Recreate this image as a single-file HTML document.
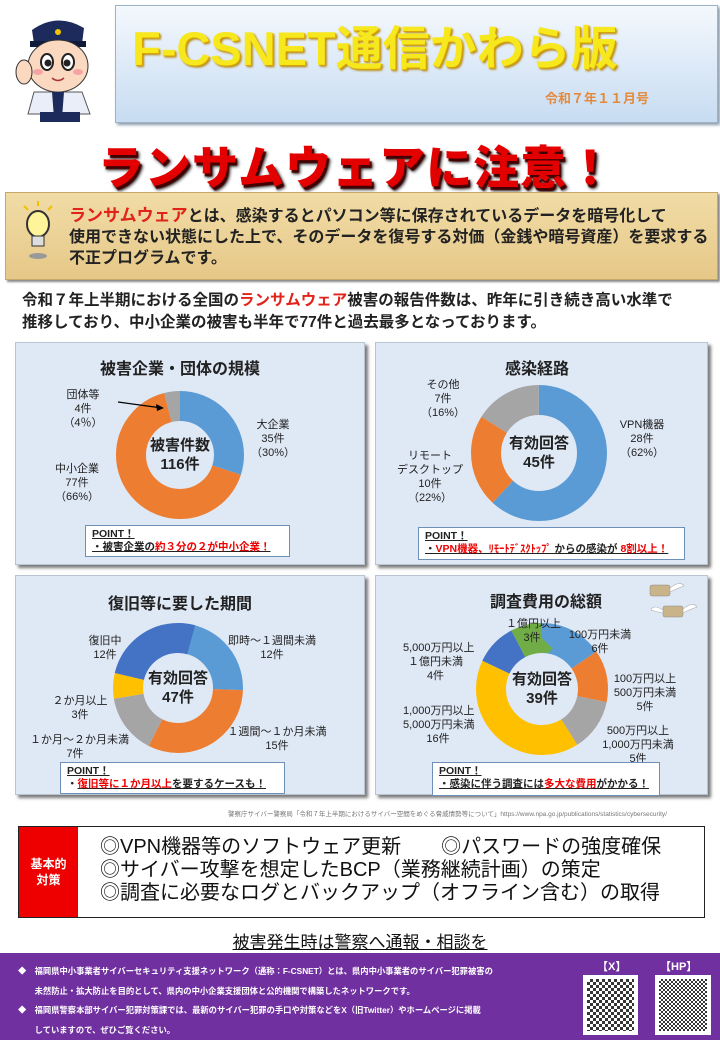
<!DOCTYPE html>
<html><head><meta charset="utf-8">
<style>
*{margin:0;padding:0;box-sizing:border-box}
body{width:720px;height:1040px;position:relative;background:#fff;font-family:"Liberation Sans","Noto Sans CJK JP",sans-serif;overflow:hidden;color:#222}
.a{position:absolute;white-space:nowrap}
.panel{position:absolute;background:#dfe8f5;border:1px solid #b9c4d3;box-shadow:3px 3px 3px #7a7a7a}
.pt{position:absolute;background:#fff;border:1px solid #6e8fb8;font-size:10.5px;line-height:13px;padding:2px 6px;font-weight:bold;white-space:nowrap}
.lbl{position:absolute;text-align:center;font-size:11px;line-height:14px;color:#222;white-space:nowrap}
.ctr{position:absolute;text-align:center;font-size:15px;line-height:19px;font-weight:bold;color:#222}
.r{color:#e00}
</style></head><body>

<svg class="a" style="left:12px;top:14px" width="95" height="108" viewBox="0 0 95 108">
<path d="M20 16 Q45 -2 72 14 L70 30 L22 30Z" fill="#1d2b5c"/>
<rect x="18" y="27" width="56" height="6" fill="#101a3a"/>
<circle cx="46" cy="18" r="3" fill="#f2c700"/>
<ellipse cx="46" cy="52" rx="30" ry="26" fill="#fbd8c0" stroke="#333"/>
<ellipse cx="35" cy="48" rx="6" ry="8" fill="#fff" stroke="#222" stroke-width="2"/>
<ellipse cx="56" cy="48" rx="6" ry="8" fill="#fff" stroke="#222" stroke-width="2"/>
<circle cx="36" cy="49" r="3.5" fill="#222"/><circle cx="55" cy="49" r="3.5" fill="#222"/>
<path d="M40 64 Q46 69 52 64" stroke="#a33" fill="none" stroke-width="1.5"/>
<ellipse cx="26" cy="58" rx="5" ry="3" fill="#f5a3a3"/><ellipse cx="66" cy="58" rx="5" ry="3" fill="#f5a3a3"/>
<path d="M22 78 L70 78 L78 100 L16 100Z" fill="#e9eef8" stroke="#555"/>
<path d="M40 78 L52 78 L50 104 L42 104Z" fill="#1d2b5c"/>
<rect x="28" y="98" width="40" height="10" fill="#1d2b5c"/>
<ellipse cx="12" cy="58" rx="8" ry="12" fill="#fbd8c0" stroke="#333"/>
</svg>

<div class="a" style="left:115px;top:5px;width:603px;height:118px;background:linear-gradient(#f4f8fd,#c7dcf2);border:1px solid #9fb3c8;box-shadow:2px 2px 3px #8899aa"></div>
<div class="a" style="left:132px;top:10px;font-size:47px;font-weight:bold;color:#f7e81e;text-shadow:1px 1px 0 #d9a400,2px 2px 2px #b08000">F-CSNET通信かわら版</div>
<div class="a" style="left:545px;top:88px;font-size:13px;font-weight:bold;color:#e58a3a">令和７年１１月号</div>

<div class="a" style="left:98px;top:132px;font-size:46px;font-weight:900;color:#e30000;text-shadow:2px 3px 1px #400,3px 4px 3px #222;letter-spacing:1px">ランサムウェアに注意！</div>

<div class="a" style="left:5px;top:192px;width:713px;height:88px;background:linear-gradient(#f1dca6,#e6c888);border:1px solid #c7a868;box-shadow:2px 2px 2px #888"></div>
<svg class="a" style="left:18px;top:200px" width="40" height="62" viewBox="0 0 40 62">
<g stroke="#f0c000" stroke-width="2"><line x1="6" y1="6" x2="10" y2="10"/><line x1="20" y1="1" x2="20" y2="6"/><line x1="34" y1="6" x2="30" y2="10"/></g>
<ellipse cx="20" cy="24" rx="11" ry="13" fill="#fff49a" stroke="#333" stroke-width="2"/>
<rect x="14" y="36" width="12" height="10" fill="#ddd" stroke="#333"/>
<ellipse cx="20" cy="56" rx="9" ry="3" fill="#999"/>
</svg>
<div class="a" style="left:69px;top:205px;font-size:16px;line-height:21px;font-weight:bold;color:#222"><span style="color:#e2231a;font-size:17px">ランサムウェア</span>とは、感染するとパソコン等に保存されているデータを暗号化して<br>使用できない状態にした上で、そのデータを復号する対価（金銭や暗号資産）を要求する<br>不正プログラムです。</div>

<div class="a" style="left:22px;top:290px;font-size:15.5px;line-height:22px;font-weight:bold;color:#222">令和７年上半期における全国の<span style="color:#e2231a">ランサムウェア</span>被害の報告件数は、昨年に引き続き高い水準で<br>推移しており、中小企業の被害も半年で77件と過去最多となっております。</div>

<div class="panel" style="left:15px;top:342px;width:350px;height:223px"></div>
<div class="panel" style="left:375px;top:342px;width:333px;height:223px"></div>
<div class="panel" style="left:15px;top:575px;width:350px;height:220px"></div>
<div class="panel" style="left:375px;top:575px;width:333px;height:220px"></div>

<div class="a" style="left:100px;top:355px;font-size:16px;font-weight:bold">被害企業・団体の規模</div>
<div class="a" style="left:505px;top:355px;font-size:16px;font-weight:bold">感染経路</div>
<div class="a" style="left:108px;top:590px;font-size:16px;font-weight:bold">復旧等に要した期間</div>
<div class="a" style="left:490px;top:588px;font-size:16px;font-weight:bold">調査費用の総額</div>

<svg class="a" style="left:0;top:0" width="720" height="1040">
<g fill="none" stroke-width="30">
<g transform="rotate(-90 180 455)">
<circle cx="180" cy="455" r="49" stroke="#5b9bd5" pathLength="100" stroke-dasharray="30 70"/>
<circle cx="180" cy="455" r="49" stroke="#ed7d31" pathLength="100" stroke-dasharray="66 34" stroke-dashoffset="-30"/>
<circle cx="180" cy="455" r="49" stroke="#a5a5a5" pathLength="100" stroke-dasharray="4 96" stroke-dashoffset="-96"/>
</g>
<g transform="rotate(-90 539 453)">
<circle cx="539" cy="453" r="53" stroke="#5b9bd5" pathLength="100" stroke-dasharray="62 38"/>
<circle cx="539" cy="453" r="53" stroke="#ed7d31" pathLength="100" stroke-dasharray="22 78" stroke-dashoffset="-62"/>
<circle cx="539" cy="453" r="53" stroke="#a5a5a5" pathLength="100" stroke-dasharray="16 84" stroke-dashoffset="-84"/>
</g>
<g transform="rotate(-90 178 688)">
<circle cx="178" cy="688" r="50" stroke="#5b9bd5" pathLength="47" stroke-dasharray="12 35"/>
<circle cx="178" cy="688" r="50" stroke="#ed7d31" pathLength="47" stroke-dasharray="15 32" stroke-dashoffset="-12"/>
<circle cx="178" cy="688" r="50" stroke="#a5a5a5" pathLength="47" stroke-dasharray="7 40" stroke-dashoffset="-27"/>
<circle cx="178" cy="688" r="50" stroke="#ffc000" pathLength="47" stroke-dasharray="3 44" stroke-dashoffset="-34"/>
<circle cx="178" cy="688" r="50" stroke="#4472c4" pathLength="47" stroke-dasharray="12 35" stroke-dashoffset="-37"/>
</g>
<g transform="rotate(-90 542 689)">
<circle cx="542" cy="689" r="51" stroke="#5b9bd5" pathLength="39" stroke-dasharray="6 33"/>
<circle cx="542" cy="689" r="51" stroke="#ed7d31" pathLength="39" stroke-dasharray="5 34" stroke-dashoffset="-6"/>
<circle cx="542" cy="689" r="51" stroke="#a5a5a5" pathLength="39" stroke-dasharray="5 34" stroke-dashoffset="-11"/>
<circle cx="542" cy="689" r="51" stroke="#ffc000" pathLength="39" stroke-dasharray="16 23" stroke-dashoffset="-16"/>
<circle cx="542" cy="689" r="51" stroke="#4472c4" pathLength="39" stroke-dasharray="4 35" stroke-dashoffset="-32"/>
<circle cx="542" cy="689" r="51" stroke="#70ad47" pathLength="39" stroke-dasharray="3 36" stroke-dashoffset="-36"/>
</g>
</g>
<line x1="118" y1="402" x2="162" y2="408" stroke="#000" stroke-width="1.3"/>
<path d="M164 408 L156 404 L157 411Z" fill="#000"/>
<g fill="#c9b48a" stroke="#888" stroke-width="0.5"><rect x="650" y="585" width="20" height="11" rx="2"/><rect x="663" y="606" width="20" height="11" rx="2"/></g>
<g fill="#fff" stroke="#aaa" stroke-width="0.6"><path d="M670 588 q10 -8 14 -2 q-6 2 -14 6z"/><path d="M683 609 q10 -8 14 -2 q-6 2 -14 6z"/><path d="M663 610 q-10 -6 -12 0 q6 2 12 3z"/></g>
</svg>

<div class="ctr" style="left:140px;top:436px;width:80px">被害件数<br>116件</div>
<div class="ctr" style="left:499px;top:434px;width:80px">有効回答<br>45件</div>
<div class="ctr" style="left:138px;top:669px;width:80px">有効回答<br>47件</div>
<div class="ctr" style="left:502px;top:670px;width:80px">有効回答<br>39件</div>

<div class="lbl" style="left:58px;top:388px;width:50px">団体等<br>4件<br>（4％）</div>
<div class="lbl" style="left:248px;top:418px;width:50px">大企業<br>35件<br>（30%）</div>
<div class="lbl" style="left:52px;top:462px;width:50px">中小企業<br>77件<br>（66%）</div>
<div class="lbl" style="left:418px;top:378px;width:50px">その他<br>7件<br>（16%）</div>
<div class="lbl" style="left:612px;top:418px;width:60px">VPN機器<br>28件<br>（62%）</div>
<div class="lbl" style="left:390px;top:449px;width:80px">リモート<br>デスクトップ<br>10件<br>（22%）</div>
<div class="lbl" style="left:80px;top:634px;width:50px">復旧中<br>12件</div>
<div class="lbl" style="left:222px;top:634px;width:100px">即時～１週間未満<br>12件</div>
<div class="lbl" style="left:50px;top:694px;width:60px">２か月以上<br>3件</div>
<div class="lbl" style="left:30px;top:733px;width:90px">１か月～２か月未満<br>7件</div>
<div class="lbl" style="left:222px;top:725px;width:110px">１週間～１か月未満<br>15件</div>
<div class="lbl" style="left:506px;top:617px;width:52px">１億円以上<br>3件</div>
<div class="lbl" style="left:565px;top:628px;width:70px">100万円未満<br>6件</div>
<div class="lbl" style="left:403px;top:641px;width:65px">5,000万円以上<br>１億円未満<br>4件</div>
<div class="lbl" style="left:610px;top:672px;width:70px">100万円以上<br>500万円未満<br>5件</div>
<div class="lbl" style="left:403px;top:704px;width:70px">1,000万円以上<br>5,000万円未満<br>16件</div>
<div class="lbl" style="left:598px;top:724px;width:80px">500万円以上<br>1,000万円未満<br>5件</div>

<div class="pt" style="left:85px;top:525px;width:205px;height:32px"><u>POINT！</u><br><u>・被害企業の<span class="r">約３分の２が中小企業！</span></u></div>
<div class="pt" style="left:418px;top:527px;width:267px;height:33px"><u>POINT！</u><br><u>・<span class="r">VPN機器、ﾘﾓｰﾄﾃﾞｽｸﾄｯﾌﾟ</span> からの感染が <span class="r">8割以上！</span></u></div>
<div class="pt" style="left:60px;top:762px;width:225px;height:32px"><u>POINT！</u><br>・<u><span class="r">復旧等に１か月以上</span>を要するケースも！</u></div>
<div class="pt" style="left:432px;top:762px;width:228px;height:34px"><u>POINT！</u><br><u>・感染に伴う調査には<span class="r">多大な費用</span>がかかる！</u></div>

<div class="a" style="left:228px;top:808px;font-size:6.5px;color:#777">警察庁サイバー警察局「令和７年上半期におけるサイバー空間をめぐる脅威情勢等について」https://www.npa.go.jp/publications/statistics/cybersecurity/</div>

<div class="a" style="left:18px;top:826px;width:687px;height:92px;border:1.5px solid #222;background:#fff"></div>
<div class="a" style="left:19px;top:827px;width:59px;height:90px;background:#e00;color:#fff;font-size:12px;line-height:16px;font-weight:bold;text-align:center;padding-top:29px">基本的<br>対策</div>
<div class="a" style="left:100px;top:836px;font-size:20px;line-height:23px;color:#111">◎VPN機器等のソフトウェア更新　　◎パスワードの強度確保<br>◎サイバー攻撃を想定したBCP（業務継続計画）の策定<br>◎調査に必要なログとバックアップ（オフライン含む）の取得</div>

<div class="a" style="left:0;top:928px;width:720px;text-align:center;font-size:17px;text-decoration:underline;color:#111">被害発生時は警察へ通報・相談を</div>

<div class="a" style="left:0;top:953px;width:720px;height:87px;background:#7030a0"></div>
<div class="a" style="left:18px;top:962px;font-size:8.3px;line-height:19.5px;color:#fff;font-weight:bold">◆　福岡県中小事業者サイバーセキュリティ支援ネットワーク（通称：F-CSNET）とは、県内中小事業者のサイバー犯罪被害の<br>　　未然防止・拡大防止を目的として、県内の中小企業支援団体と公的機関で構築したネットワークです。<br>◆　福岡県警察本部サイバー犯罪対策課では、最新のサイバー犯罪の手口や対策などをX（旧Twitter）やホームページに掲載<br>　　していますので、ぜひご覧ください。</div>
<div class="a" style="left:597px;top:958px;font-size:11px;color:#fff;font-weight:bold">【X】</div>
<div class="a" style="left:660px;top:958px;font-size:11px;color:#fff;font-weight:bold">【HP】</div>
<div class="a" style="left:583px;top:975px;width:55px;height:60px;background:#fff;padding:4px">
<div style="width:100%;height:100%;background:repeating-conic-gradient(#111 0 25%,#fff 0 50%) 0 0/6px 6px;opacity:.85"></div></div>
<div class="a" style="left:655px;top:975px;width:56px;height:60px;background:#fff;padding:4px">
<div style="width:100%;height:100%;background:repeating-conic-gradient(#111 0 25%,#fff 0 50%) 0 0/4px 4px;opacity:.85"></div></div>
</body></html>
